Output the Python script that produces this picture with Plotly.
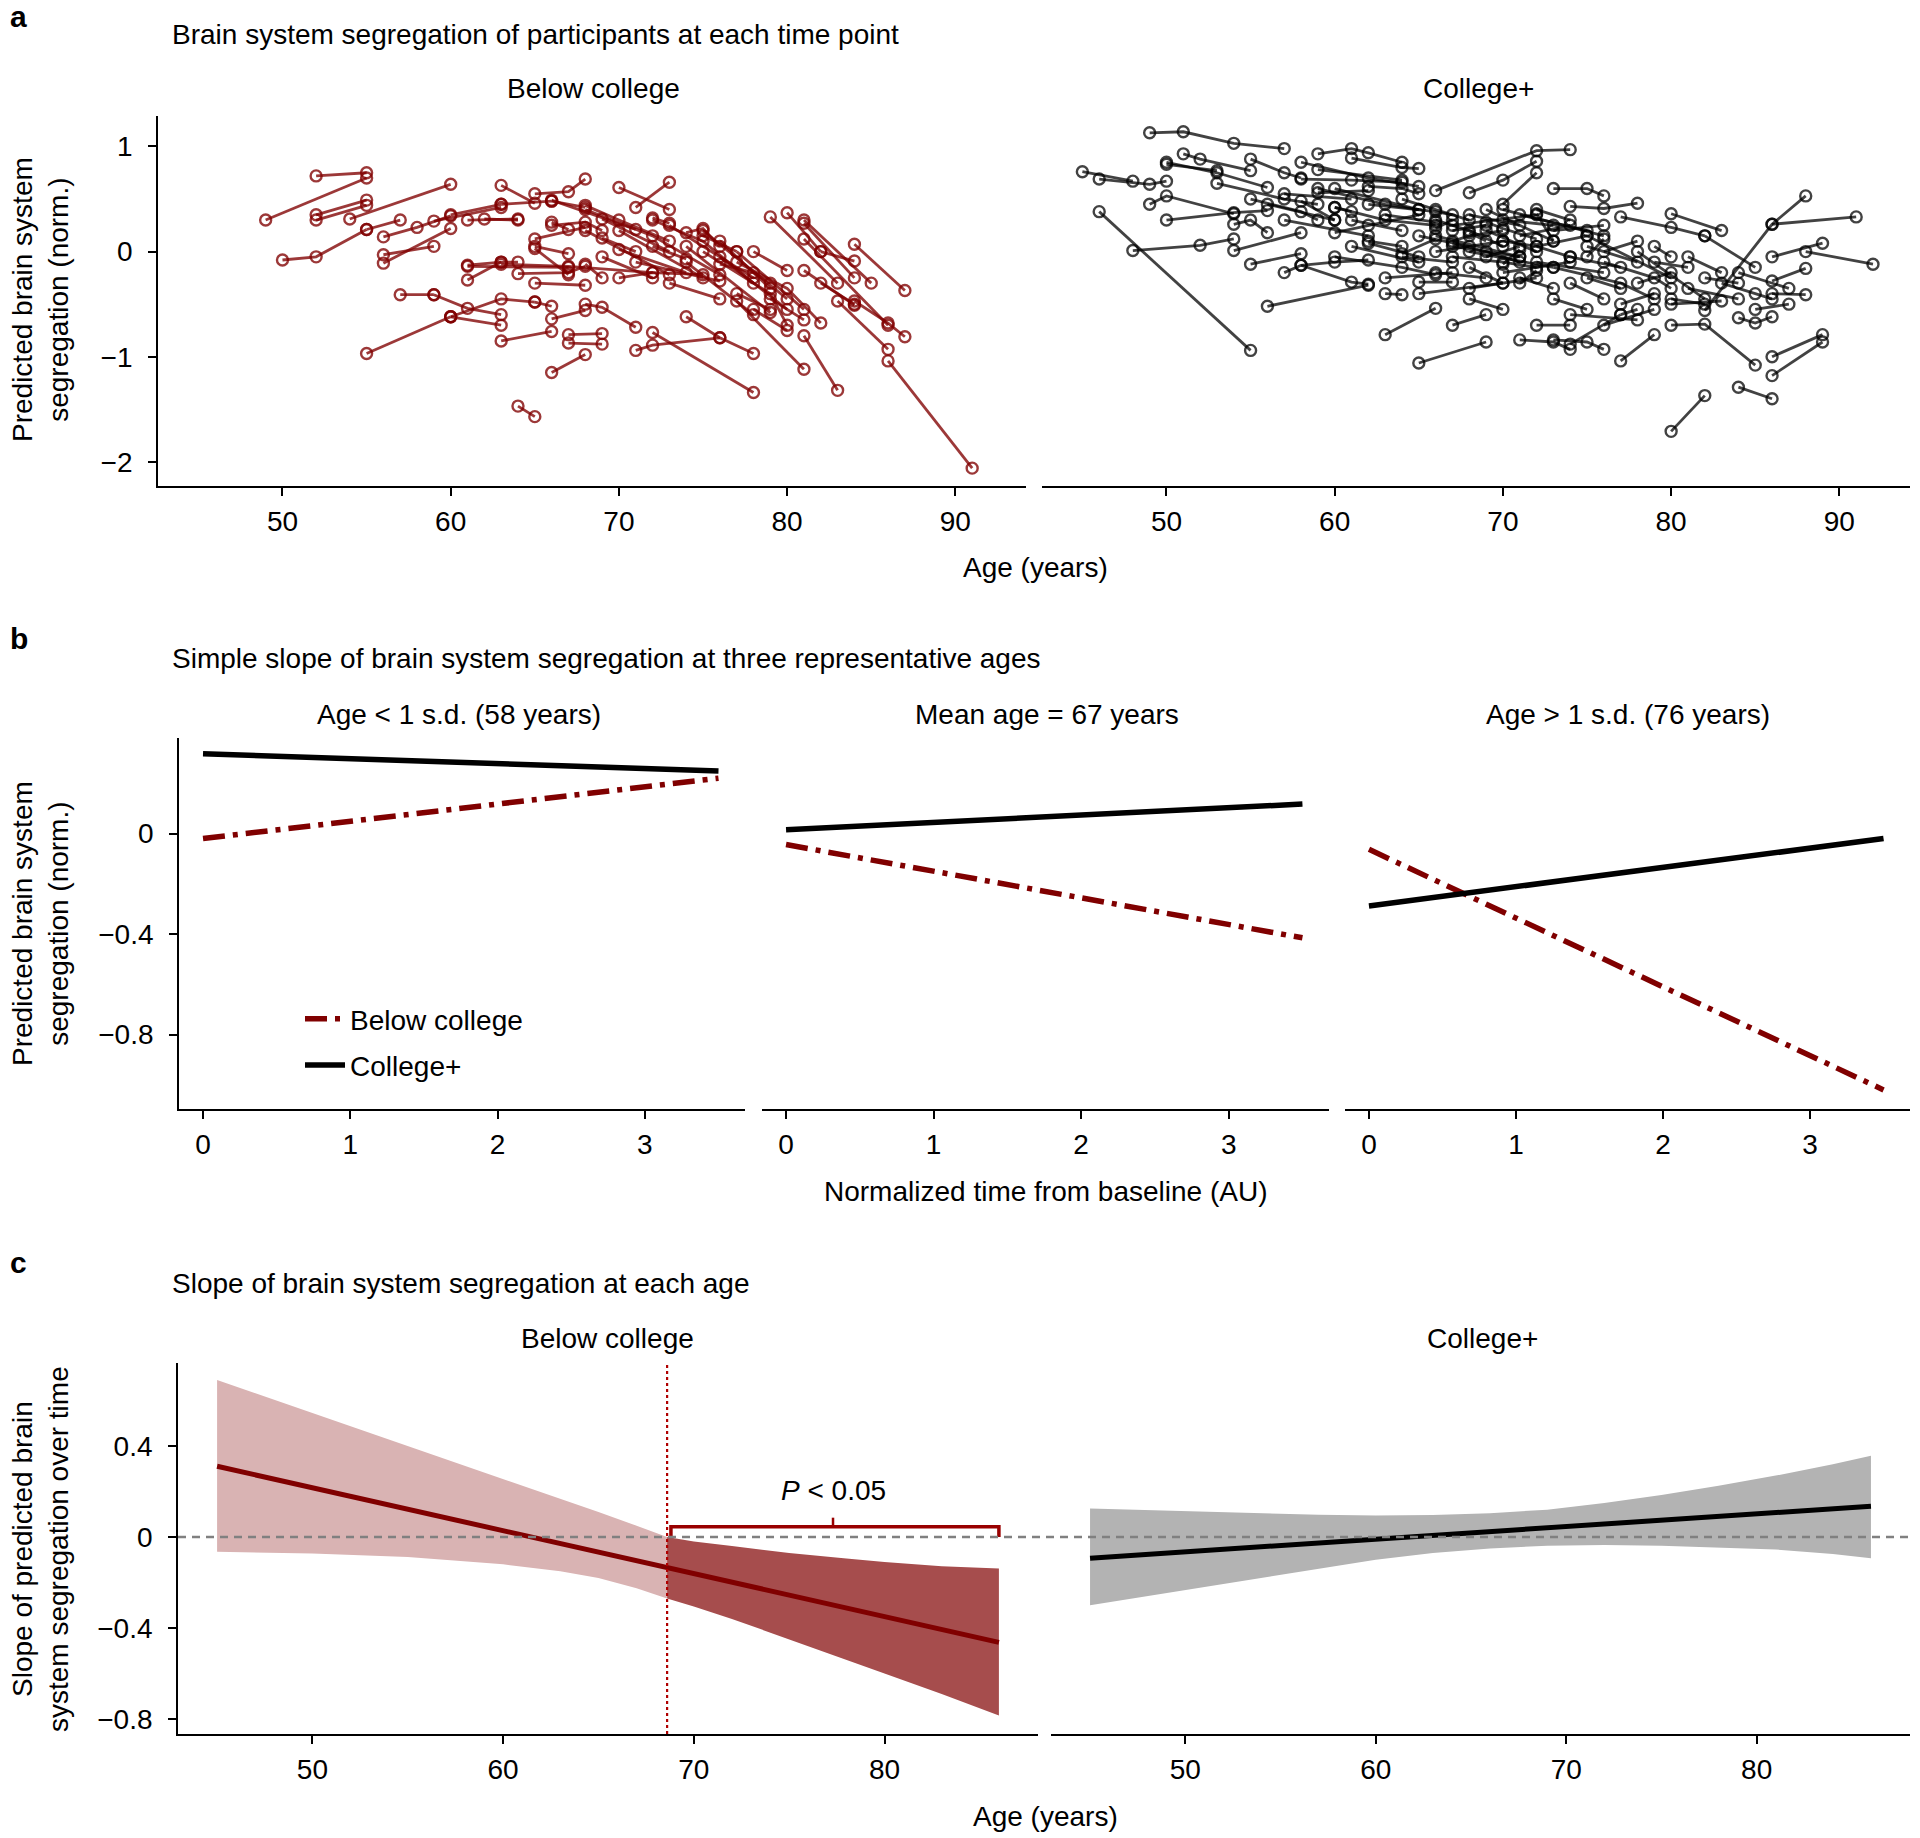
import plotly.graph_objects as go

W, H = 1920, 1838
FONT = "Liberation Sans, Arial, sans-serif"
FS = 28


def px(x):
    return x / W


def py(y):
    return 1 - y / H


# ---------------- Panel a data (per participant: ages, segregation) ----------------
below_ages = [
    [49, 55], [52, 55], [52, 55], [52, 55], [50, 52, 55], [55, 57], [54, 60], [56, 58, 60],
    [56, 59], [56, 60], [59, 63], [61, 64], [60, 63], [63, 65], [65, 67, 68], [66, 68],
    [70, 73], [71, 73], [57, 59], [59, 61, 63], [55, 60], [60, 63], [60, 63, 65], [63, 66],
    [65, 66], [68, 69, 71], [67, 69], [67, 69], [66, 68], [64, 65], [66, 68], [71, 72, 76],
    [74, 76, 78], [72, 78], [77, 81], [81, 83], [83, 86], [86, 91], [84, 86, 87], [79, 83],
    [80, 82], [81, 85], [81, 84], [81, 86], [84, 87], [82, 84], [81, 84],
    [61, 63, 64], [61, 67], [63, 67, 72], [61, 63], [64, 67, 68], [65, 68], [65, 68], [65, 67],
    [65, 67], [66, 71], [66, 67], [68, 70, 73], [68, 72, 76], [69, 73], [69, 71], [70, 75],
    [70, 74], [70, 72, 75], [68, 73], [72, 75, 78], [73, 78], [74, 79], [75, 80], [75, 77],
    [76, 79], [73, 76], [75, 79, 80], [76, 80], [77, 81], [78, 80], [77, 80, 82], [72, 74],
    [74, 78], [69, 72], [71, 76], [72, 73], [74, 75, 76], [66, 68, 69], [63, 66], [62, 64],
    [68, 69], [76, 78, 79], [78, 80], [79, 81], [82, 84], [77, 79],
]
below_vals = [
    [0.30, 0.70], [0.72, 0.75], [0.35, 0.49], [0.30, 0.44], [-0.08, -0.05, 0.21], [0.21, 0.30],
    [0.31, 0.64], [0.14, 0.23, 0.34], [-0.03, 0.05], [-0.11, 0.22], [0.29, 0.42], [0.30, 0.31],
    [0.35, 0.45], [0.63, 0.46], [0.55, 0.57, 0.69], [0.48, 0.42], [0.61, 0.40], [0.42, 0.66],
    [-0.41, -0.41], [-0.41, -0.54, -0.60], [-0.97, -0.62], [-0.62, -0.70], [-0.62, -0.45, -0.48],
    [-0.85, -0.76], [-0.48, -0.52], [-0.50, -0.53, -0.72], [-0.79, -0.78], [-0.87, -0.88],
    [-1.15, -0.98], [-1.47, -1.57], [-0.64, -0.56], [-0.94, -0.89, -0.82], [-0.62, -0.82, -0.97],
    [-0.77, -1.34], [-0.47, -1.12], [-0.80, -1.32], [-0.47, -0.93], [-1.04, -2.06],
    [-0.47, -0.68, -0.81], [0.33, -0.30], [0.37, 0.00], [0.30, -0.30], [0.27, -0.25],
    [0.12, -0.70], [0.07, -0.37], [0.00, -0.09], [-0.18, -0.51],
    [-0.13, -0.10, -0.10], [-0.14, -0.15], [-0.12, -0.14, -0.20], [-0.27, -0.10],
    [-0.21, -0.20, -0.14], [-0.30, -0.32], [0.12, 0.23], [0.05, -0.02], [0.03, -0.22],
    [0.49, 0.21], [0.28, 0.21], [0.44, 0.30, 0.10], [0.40, 0.15, -0.22], [0.31, 0.00],
    [0.13, 0.00], [0.20, -0.25], [0.02, -0.20], [-0.25, -0.20, -0.22], [0.20, -0.22],
    [0.30, 0.10, -0.30], [0.25, -0.25], [0.05, -0.58], [0.20, -0.45], [0.15, 0.00],
    [0.10, -0.35], [-0.30, -0.45], [0.00, -0.40, -0.70], [-0.05, -0.55], [0.00, -0.55],
    [0.00, -0.18], [-0.10, -0.35, -0.68], [0.05, -0.07], [-0.10, -0.60], [-0.05, -0.25],
    [-0.10, -0.28], [0.32, 0.27], [0.18, 0.22, 0.05], [0.25, 0.28, 0.20], [0.45, 0.48],
    [0.31, 0.30], [-0.12, -0.25], [-0.12, -0.20, -0.30], [-0.55, -0.75], [-0.45, -0.65],
    [-0.30, -0.50], [-0.40, -0.55],
]

college_ages = [
    [49, 51, 54, 57], [45, 48], [46, 49, 50], [50, 53, 56], [50, 53], [51, 52, 55], [46, 55],
    [48, 52, 54], [49, 50, 54], [50, 54, 56], [54, 55, 56], [54, 58], [55, 58], [57, 58, 60, 62],
    [58, 61, 62], [55, 57, 58], [59, 61, 62, 64], [61, 64, 65], [58, 62, 65], [59, 64],
    [58, 61, 64], [59, 62], [62, 64, 65], [66, 72, 74], [68, 70, 72], [70, 72], [73, 75, 76],
    [74, 76, 78], [77, 80, 82], [80, 83], [86, 91], [82, 86, 88], [86, 89], [88, 92], [86, 88],
    [80, 82], [84, 86], [86, 89], [86, 89], [80, 82, 85], [77, 79], [73, 75, 76], [72, 74],
    [71, 73, 74], [74, 77], [65, 69], [63, 66], [56, 62], [65, 67], [63, 64], [67, 69], [68, 70],
    [60, 63, 66], [61, 64], [60, 62, 65], [62, 66, 67], [61, 65], [63, 66], [62, 64],
    [60, 64, 66], [63, 67], [64, 66, 68], [65, 68], [64, 67], [59, 63, 65], [57, 61], [60, 65],
    [53, 57, 59], [55, 58, 59], [56, 60], [57, 62], [66, 68, 70], [67, 69], [67, 68, 70],
    [66, 70], [67, 70, 72], [68, 71], [66, 69], [67, 71], [68, 70], [69, 72], [70, 73],
    [70, 72, 74], [68, 72], [69, 71], [71, 74], [70, 74], [71, 73], [72, 75], [72, 76],
    [69, 73], [67, 72], [68, 73], [70, 76], [66, 71], [71, 75], [72, 74], [73, 76], [74, 77],
    [75, 78], [73, 77, 79], [76, 78], [74, 76], [75, 77], [76, 79, 80], [77, 79], [77, 78],
    [78, 80], [79, 81], [78, 82], [80, 82], [79, 80], [75, 80], [73, 75], [74, 78], [76, 79],
    [81, 84], [83, 85, 86], [84, 87], [86, 88], [85, 87], [84, 85, 86], [81, 83], [82, 84],
    [80, 83], [82, 85], [67, 69, 71], [69, 70, 72], [70, 71], [68, 69], [71, 72], [66, 67],
    [64, 66], [62, 65], [58, 60], [60, 61], [65, 70], [72, 73], [75, 76],
]
college_vals = [
    [1.13, 1.14, 1.03, 0.98], [0.76, 0.67], [0.69, 0.64, 0.67], [0.85, 0.75, 0.61],
    [0.83, 0.77], [0.93, 0.88, 0.77], [0.38, -0.94], [0.01, 0.06, 0.12], [0.45, 0.53, 0.36],
    [0.30, 0.37, 0.39], [0.26, 0.30, 0.18], [0.01, 0.18], [-0.12, -0.02],
    [-0.20, -0.13, -0.10, -0.08], [-0.13, -0.29, -0.31], [0.88, 0.75, 0.70],
    [0.93, 0.98, 0.94, 0.85], [0.89, 0.80, 0.79], [0.85, 0.70, 0.62], [0.78, 0.68],
    [0.69, 0.68, 0.66], [0.56, 0.58], [0.62, 0.60, 0.55], [0.58, 0.96, 0.97], [0.56, 0.68, 0.86],
    [0.45, 0.75], [0.60, 0.60, 0.53], [0.43, 0.41, 0.46], [0.33, 0.23, 0.15], [0.36, 0.20],
    [0.26, 0.33], [-0.56, 0.26, 0.53], [-0.05, 0.08], [0.00, -0.12], [-0.28, -0.16],
    [-1.71, -1.37], [-1.29, -1.40], [-1.00, -0.79], [-1.18, -0.86], [-0.70, -0.69, -1.08],
    [-1.04, -0.79], [-0.84, -0.86, -0.93], [-0.70, -0.70], [-0.84, -0.86, -0.93], [-0.88, -0.60],
    [-1.06, -0.86], [-0.79, -0.54], [-0.52, -0.32], [-0.29, -0.29], [-0.40, -0.41],
    [-0.70, -0.60], [-0.45, -0.55], [0.42, 0.30, 0.25], [0.30, 0.20], [0.18, 0.25, 0.35],
    [0.45, 0.38, 0.35], [0.05, -0.10], [0.35, 0.28], [0.10, 0.05], [-0.05, -0.15, -0.22],
    [-0.25, -0.20], [0.50, 0.40, 0.30], [0.15, 0.05], [-0.05, -0.10], [0.60, 0.45, 0.40],
    [0.55, 0.50], [0.60, 0.40], [0.65, 0.50, 0.45], [0.50, 0.38, 0.30], [0.45, 0.30],
    [0.30, 0.15], [0.30, 0.20, 0.05], [0.20, 0.25], [0.10, 0.15, 0.20], [0.00, 0.10],
    [-0.05, -0.10, -0.15], [0.35, 0.25], [-0.20, -0.25], [0.05, -0.05], [-0.15, -0.30],
    [0.20, 0.00], [0.30, 0.25], [0.10, 0.05, -0.05], [-0.35, -0.25], [-0.05, 0.05], [0.15, 0.25],
    [-0.20, -0.10], [-0.25, -0.35], [0.05, 0.15], [-0.10, -0.20], [0.40, 0.10], [0.25, 0.35],
    [0.00, -0.15], [0.40, 0.15], [0.15, -0.05], [0.35, 0.20], [0.40, 0.30], [0.20, 0.25],
    [-0.05, -0.15], [0.05, -0.10], [-0.15, -0.30, -0.45], [0.00, 0.10], [-0.30, -0.45],
    [-0.25, -0.35], [-0.10, -0.25, -0.35], [-0.50, -0.40], [-0.60, -0.55], [-0.30, -0.20],
    [-0.10, -0.15], [0.00, -0.45], [-0.45, -0.50], [0.05, -0.05], [0.15, -0.25],
    [-0.45, -0.55], [-0.60, -0.65], [-0.70, -0.55], [-0.35, -0.45], [-0.30, -0.40, -0.45],
    [-0.20, -0.35], [-0.40, -0.41], [-0.55, -0.50], [-0.63, -0.68, -0.62], [-0.05, -0.20],
    [-0.25, -0.30], [-0.50, -0.47], [0.15, -0.15], [0.08, 0.00, -0.10], [0.28, 0.22, 0.12],
    [-0.12, 0.02], [0.18, 0.10], [-0.30, -0.18], [0.22, 0.30], [-0.02, 0.12], [0.08, -0.05],
    [0.48, 0.30], [0.42, 0.38], [-0.40, -0.30], [0.36, 0.10], [-0.05, 0.12],
]

# ---------------- Panel b data ----------------
b_titles = ["Age < 1 s.d. (58 years)", "Mean age = 67 years", "Age > 1 s.d. (76 years)"]
b_time = [0, 3.5]
b_below = [[-0.02, 0.22], [-0.044, -0.415], [-0.063, -1.02]]
b_college = [[0.317, 0.249], [0.015, 0.117], [-0.288, -0.02]]

# ---------------- Panel c data ----------------
c_line_age = [45, 86]
c_below_line = [0.311, -0.463]
c_college_line = [-0.093, 0.135]
sig_age = 68.6
c_light_age = [45, 50, 55, 60, 63, 65, 67, 68.6]
c_light_upper = [0.69, 0.545, 0.40, 0.255, 0.17, 0.11, 0.05, 0.0]
c_light_lower = [-0.065, -0.072, -0.088, -0.12, -0.15, -0.18, -0.225, -0.27]
c_dark_age = [68.6, 70, 72, 75, 78, 80, 83, 86]
c_dark_upper = [0.0, -0.02, -0.04, -0.07, -0.095, -0.11, -0.128, -0.138]
c_dark_lower = [-0.27, -0.305, -0.36, -0.45, -0.54, -0.60, -0.69, -0.785]
c_grey_age = [45, 48, 51, 54, 57, 60, 63, 66, 69, 72, 75, 78, 81, 84, 86]
c_grey_upper = [0.125, 0.118, 0.11, 0.103, 0.098, 0.095, 0.097, 0.105, 0.12, 0.15, 0.185,
                0.225, 0.27, 0.32, 0.357]
c_grey_lower = [-0.30, -0.26, -0.22, -0.18, -0.14, -0.10, -0.07, -0.05, -0.038, -0.035,
                -0.038, -0.045, -0.055, -0.075, -0.093]

RED = "#800000"
fig = go.Figure()

# ---- panel a traces ----
for ages, vals in zip(below_ages, below_vals):
    fig.add_trace(go.Scatter(
        x=ages, y=vals, mode="lines+markers", xaxis="x", yaxis="y", showlegend=False,
        line=dict(color="rgba(128,0,0,0.78)", width=2.8),
        marker=dict(symbol="circle-open", size=11, color="rgba(128,0,0,0.78)", line=dict(width=2.4)),
        hoverinfo="skip"))
for ages, vals in zip(college_ages, college_vals):
    fig.add_trace(go.Scatter(
        x=ages, y=vals, mode="lines+markers", xaxis="x2", yaxis="y2", showlegend=False,
        line=dict(color="rgba(0,0,0,0.74)", width=2.8),
        marker=dict(symbol="circle-open", size=11, color="rgba(0,0,0,0.74)", line=dict(width=2.4)),
        hoverinfo="skip"))

# ---- panel b traces ----
for i in range(3):
    xa, ya = f"x{3 + i}", f"y{3 + i}"
    fig.add_trace(go.Scatter(
        x=b_time, y=b_below[i], mode="lines", xaxis=xa, yaxis=ya,
        name="Below college", legendgroup="g1", showlegend=(i == 0),
        line=dict(color=RED, width=5.5, dash="22px,8px,5px,8px")))
    fig.add_trace(go.Scatter(
        x=b_time, y=b_college[i], mode="lines", xaxis=xa, yaxis=ya,
        name="College+", legendgroup="g2", showlegend=(i == 0),
        line=dict(color="black", width=5.5)))

# ---- panel c traces ----
fig.add_trace(go.Scatter(
    x=c_light_age + c_light_age[::-1], y=c_light_upper + c_light_lower[::-1],
    fill="toself", fillcolor="#d9b3b3", line=dict(width=0), mode="lines",
    xaxis="x6", yaxis="y6", showlegend=False, hoverinfo="skip"))
fig.add_trace(go.Scatter(
    x=c_dark_age + c_dark_age[::-1], y=c_dark_upper + c_dark_lower[::-1],
    fill="toself", fillcolor="#a64d4d", line=dict(width=0), mode="lines",
    xaxis="x6", yaxis="y6", showlegend=False, hoverinfo="skip"))
fig.add_trace(go.Scatter(
    x=c_grey_age + c_grey_age[::-1], y=c_grey_upper + c_grey_lower[::-1],
    fill="toself", fillcolor="#b3b3b3", line=dict(width=0), mode="lines",
    xaxis="x7", yaxis="y7", showlegend=False, hoverinfo="skip"))
fig.add_trace(go.Scatter(
    x=c_line_age, y=c_below_line, mode="lines", line=dict(color=RED, width=5),
    xaxis="x6", yaxis="y6", showlegend=False))
fig.add_trace(go.Scatter(
    x=c_line_age, y=c_college_line, mode="lines", line=dict(color="black", width=5),
    xaxis="x7", yaxis="y7", showlegend=False))
# significance bracket
br_x = [sig_age + 0.2, sig_age + 0.2, c_line_age[1], c_line_age[1]]
br_y = [0.0, 0.045, 0.045, 0.0]
fig.add_trace(go.Scatter(x=br_x, y=br_y, mode="lines", line=dict(color="#990000", width=3.5),
                         xaxis="x6", yaxis="y6", showlegend=False))
mid = (sig_age + c_line_age[1]) / 2
fig.add_trace(go.Scatter(x=[mid, mid], y=[0.045, 0.085], mode="lines",
                         line=dict(color="#990000", width=2.5),
                         xaxis="x6", yaxis="y6", showlegend=False))

# ---------------- axes ----------------
tickfont = dict(family=FONT, size=FS, color="black")
common = dict(showgrid=False, zeroline=False, ticks="outside", ticklen=8, tickwidth=1.5,
              tickcolor="black", tickfont=tickfont, linecolor="black", linewidth=1.8)

layout = dict(
    width=W, height=H, margin=dict(l=0, r=0, t=0, b=0),
    plot_bgcolor="white", paper_bgcolor="white",
    font=dict(family=FONT, size=FS, color="black"),
)

XSO = 1  # x tick label standoff

# panel a
a_x_range = [42.6, 94.2]
a_y_range = [-2.23, 1.29]
a_ydom = [py(486), py(116)]
layout["xaxis"] = dict(common, domain=[px(158), px(1026)], range=a_x_range, anchor="y",
                       showline=True, tickvals=[50, 60, 70, 80, 90], ticklabelstandoff=XSO)
layout["yaxis"] = dict(common, domain=a_ydom, range=a_y_range, anchor="x", showline=True,
                       tickvals=[1, 0, -1, -2], ticktext=["1", "0", "\u22121", "\u22122"],
                       ticklabelstandoff=10)
layout["xaxis2"] = dict(common, domain=[px(1042), px(1910)], range=a_x_range, anchor="y2",
                        showline=True, tickvals=[50, 60, 70, 80, 90], ticklabelstandoff=XSO)
layout["yaxis2"] = dict(domain=a_ydom, range=a_y_range, anchor="x2", visible=False,
                        showgrid=False, zeroline=False)

# panel b
b_doms = [[179, 745], [762, 1329], [1345, 1910]]
b_ydom = [py(1109), py(738)]
b_y_range = [-1.096, 0.38]
for i, (l, r) in enumerate(b_doms):
    n = 3 + i
    layout[f"xaxis{n}"] = dict(common, domain=[px(l), px(r)], range=[-0.163, 3.68],
                               anchor=f"y{n}", showline=True, tickvals=[0, 1, 2, 3],
                               ticklabelstandoff=XSO)
    if i == 0:
        layout[f"yaxis{n}"] = dict(common, domain=b_ydom, range=b_y_range, anchor=f"x{n}",
                                   showline=True, tickvals=[0, -0.4, -0.8],
                                   ticktext=["0", "\u22120.4", "\u22120.8"], ticklabelstandoff=10)
    else:
        layout[f"yaxis{n}"] = dict(domain=b_ydom, range=b_y_range, anchor=f"x{n}",
                                   visible=False, showgrid=False, zeroline=False)

# panel c
c_ydom = [py(1734), py(1363)]
c_y_range = [-0.866, 0.765]
c_x_range = [42.95, 88.05]
layout["xaxis6"] = dict(common, domain=[px(178), px(1038)], range=c_x_range, anchor="y6",
                        showline=True, tickvals=[50, 60, 70, 80], ticklabelstandoff=XSO)
layout["yaxis6"] = dict(common, domain=c_ydom, range=c_y_range, anchor="x6", showline=True,
                        tickvals=[0.4, 0, -0.4, -0.8],
                        ticktext=["0.4", "0", "\u22120.4", "\u22120.8"], ticklabelstandoff=10)
layout["xaxis7"] = dict(common, domain=[px(1051), px(1910)], range=c_x_range, anchor="y7",
                        showline=True, tickvals=[50, 60, 70, 80], ticklabelstandoff=XSO)
layout["yaxis7"] = dict(domain=c_ydom, range=c_y_range, anchor="x7", visible=False,
                        showgrid=False, zeroline=False)

layout["legend"] = dict(x=px(300), y=py(994), xanchor="left", yanchor="top",
                        bgcolor="rgba(0,0,0,0)", font=dict(family=FONT, size=FS),
                        tracegroupgap=7, traceorder="grouped", itemwidth=40)
fig.update_layout(**layout)

# ---------------- shapes ----------------
fig.add_shape(type="line", xref="paper", yref="y6", x0=px(178), x1=px(1910), y0=0, y1=0,
              line=dict(color="#808080", width=2.5, dash="8px,6px"), layer="above")
fig.add_shape(type="line", xref="x6", yref="y6 domain", x0=sig_age, x1=sig_age, y0=0, y1=1,
              line=dict(color="#b00000", width=2.2, dash="dot"), layer="above")


# ---------------- text annotations ----------------
def ann(text, x, y, size=FS, xanchor="center", bold=False, angle=0):
    if bold:
        text = f"<b>{text}</b>"
    fig.add_annotation(text=text, x=px(x), y=py(y), xref="paper", yref="paper",
                       showarrow=False, xanchor=xanchor, yanchor="middle",
                       textangle=angle, font=dict(family=FONT, size=size, color="black"))


ann("a", 8, 16, size=30, xanchor="left", bold=True)
ann("b", 8, 638, size=30, xanchor="left", bold=True)
ann("c", 8, 1262, size=30, xanchor="left", bold=True)

ann("Brain system segregation of participants at each time point", 170, 34, xanchor="left")
ann("Simple slope of brain system segregation at three representative ages", 170, 659, xanchor="left")
ann("Slope of brain system segregation at each age", 170, 1283, xanchor="left")

ann("Below college", 593, 89)
ann("College+", 1478, 89)
for t, (l, r) in zip(b_titles, b_doms):
    ann(t, (l + r) / 2 + (1 if t.startswith("Mean") else 0) - (3 if t.startswith("Age <") else 0), 714)
ann("Below college", 607, 1338)
ann("College+", 1482, 1338)

ann("Age (years)", 1035, 567)
ann("Normalized time from baseline (AU)", 1045, 1191)
ann("Age (years)", 1045, 1816)

ann("Predicted brain system<br>segregation (norm.)", 40, 300, angle=-90)
ann("Predicted brain system<br>segregation (norm.)", 40, 924, angle=-90)
ann("Slope of predicted brain<br>system segregation over time", 40, 1549, angle=-90)

fig.add_annotation(text="<i>P</i> < 0.05", x=mid, y=0.205, xref="x6", yref="y6",
                   showarrow=False, xanchor="center", yanchor="middle",
                   font=dict(family=FONT, size=FS, color="black"))

fig.write_html("out.html", config={"displayModeBar": False},
               post_script="document.body.style.margin='0';document.body.style.overflow='hidden';")
